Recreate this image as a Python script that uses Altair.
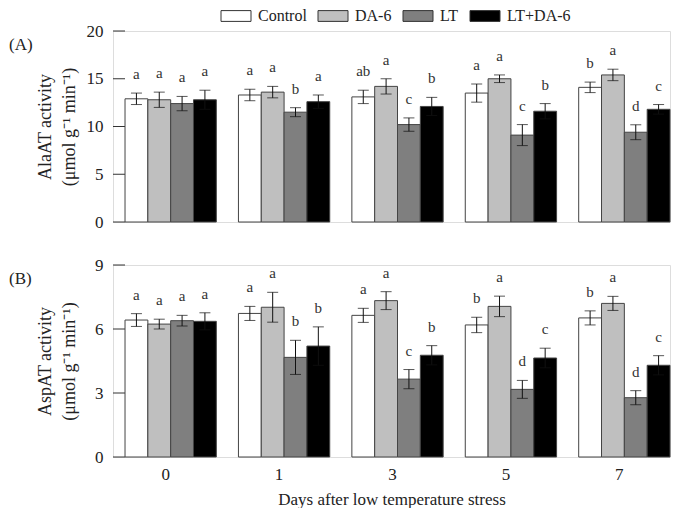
import altair as alt
import pandas as pd

days = ["0", "1", "3", "5", "7"]
treatments = ["Control", "DA-6", "LT", "LT+DA-6"]
colors = ["#ffffff", "#bfbfbf", "#7f7f7f", "#000000"]

# Panel A: AlaAT activity
ala_means = [
    [12.9, 13.3, 13.1, 13.5, 14.1],   # Control
    [12.8, 13.6, 14.2, 15.0, 15.4],   # DA-6
    [12.4, 11.5, 10.2, 9.1, 9.4],     # LT
    [12.8, 12.6, 12.1, 11.6, 11.8],   # LT+DA-6
]
ala_errs = [
    [0.6, 0.6, 0.7, 0.95, 0.55],
    [0.8, 0.6, 0.8, 0.4, 0.6],
    [0.75, 0.47, 0.7, 1.1, 0.78],
    [1.0, 0.7, 0.95, 0.8, 0.5],
]
ala_letters = [
    ["a", "a", "ab", "a", "b"],
    ["a", "a", "a", "a", "a"],
    ["a", "b", "c", "c", "d"],
    ["a", "a", "b", "b", "c"],
]

# Panel B: AspAT activity
asp_means = [
    [6.42, 6.73, 6.64, 6.19, 6.52],
    [6.23, 7.02, 7.33, 7.06, 7.2],
    [6.39, 4.67, 3.65, 3.17, 2.78],
    [6.36, 5.2, 4.77, 4.64, 4.3],
]
asp_errs = [
    [0.3, 0.33, 0.33, 0.36, 0.33],
    [0.23, 0.7, 0.42, 0.48, 0.33],
    [0.25, 0.8, 0.45, 0.42, 0.33],
    [0.4, 0.9, 0.45, 0.46, 0.45],
]
asp_letters = [
    ["a", "a", "a", "b", "b"],
    ["a", "a", "a", "a", "a"],
    ["a", "b", "c", "d", "d"],
    ["a", "b", "b", "c", "c"],
]

ala_ticks = [0, 5, 10, 15, 20]
asp_ticks = [0, 3, 6, 9]

FONT = "Liberation Serif"


def make_df(means, errs, letters):
    rows = []
    for t, m, e, l in zip(treatments, means, errs, letters):
        for d, mv, ev, lv in zip(days, m, e, l):
            rows.append(dict(day=d, treatment=t, mean=mv, lo=mv - ev, hi=mv + ev, letter=lv))
    return pd.DataFrame(rows)


xscale = alt.Scale(domain=days, paddingInner=0.195, paddingOuter=0.053, align=1)
offscale = alt.Scale(domain=treatments)
fillscale = alt.Scale(domain=treatments, range=colors)


def panel(df, ticks, ymax, title_lines, tag, show_x, height):
    yscale = alt.Scale(domain=[0, ymax], nice=False)
    yaxis = alt.Axis(values=ticks, ticks=False, tickSize=0, domain=False, grid=False,
                     labelPadding=10, labelFontSize=17, labelFont=FONT, labelColor="#222",
                     title=title_lines, titleFontSize=18, titleFont=FONT,
                     titleFontWeight="normal", titleColor="#222", titlePadding=5,
                     titleLineHeight=24, minExtent=30)
    if show_x:
        xaxis = alt.Axis(labelAngle=0, ticks=False, domain=False, labelPadding=9,
                         labelFontSize=17, labelFont=FONT, labelColor="#222", labelOffset=-5,
                         title="Days after low temperature stress", titleFontSize=17,
                         titleFont=FONT, titleFontWeight="normal", titleColor="#222",
                         titlePadding=9)
    else:
        xaxis = None

    base = alt.Chart(df)
    x = alt.X("day:N", scale=xscale, axis=xaxis, sort=days)
    xo = alt.XOffset("treatment:N", scale=offscale, sort=treatments)

    tick_df = pd.DataFrame({"v": ticks})
    tick_rules = alt.Chart(tick_df).mark_rule(color="#333", strokeWidth=1).encode(
        y=alt.Y("v:Q", scale=yscale, axis=yaxis),
        x=alt.value(0), x2=alt.value(12))

    bars = base.mark_bar(stroke="#444", strokeWidth=1).encode(
        x=x, xOffset=xo,
        y=alt.Y("mean:Q", scale=yscale, axis=yaxis),
        fill=alt.Fill("treatment:N", scale=fillscale, sort=treatments,
                      legend=alt.Legend(title=None, orient="none", direction="horizontal",
                                        legendX=115, legendY=-23, gridAlign="none",
                                        symbolType="M-2,-0.72H2V0.72H-2Z", symbolSize=225,
                                        symbolStrokeColor="#333", symbolStrokeWidth=1,
                                        symbolOpacity=1,
                                        labelFont=FONT, labelFontSize=16, labelColor="#222",
                                        labelOffset=14, columnPadding=9)))
    err = base.mark_rule(color="#111", strokeWidth=1).encode(
        x=x, xOffset=xo, y="lo:Q", y2="hi:Q")
    cap_lo = base.mark_tick(color="#111", thickness=1, size=11).encode(
        x=x, xOffset=xo, y="lo:Q")
    cap_hi = base.mark_tick(color="#111", thickness=1, size=11).encode(
        x=x, xOffset=xo, y="hi:Q")
    letters = base.mark_text(font=FONT, fontSize=15, color="#333", baseline="middle",
                             dy=-19).encode(x=x, xOffset=xo, y="hi:Q", text="letter:N")
    tag_txt = alt.Chart(pd.DataFrame({"t": [tag]})).mark_text(
        font=FONT, fontSize=17, color="#222", align="left", baseline="middle").encode(
        text="t:N", x=alt.value(-104), y=alt.value(14))

    return alt.layer(tick_rules, bars, err, cap_lo, cap_hi, letters, tag_txt).properties(
        width=557, height=height)


pa = panel(make_df(ala_means, ala_errs, ala_letters), ala_ticks, 20,
           ["AlaAT activity", "(μmol g⁻¹ min⁻¹)"], "(A)", False, 191)
pb = panel(make_df(asp_means, asp_errs, asp_letters), asp_ticks, 9,
           ["AspAT activity", "(μmol g⁻¹ min⁻¹)"], "(B)", True, 192)

chart = alt.vconcat(pa, pb, spacing=24).properties(
    padding={"left": 0, "top": 0, "right": 0, "bottom": 0}
).configure_view(stroke="#333", strokeWidth=1).configure(font=FONT)

chart.save("out.html", embed_options={"renderer": "svg", "actions": False})
